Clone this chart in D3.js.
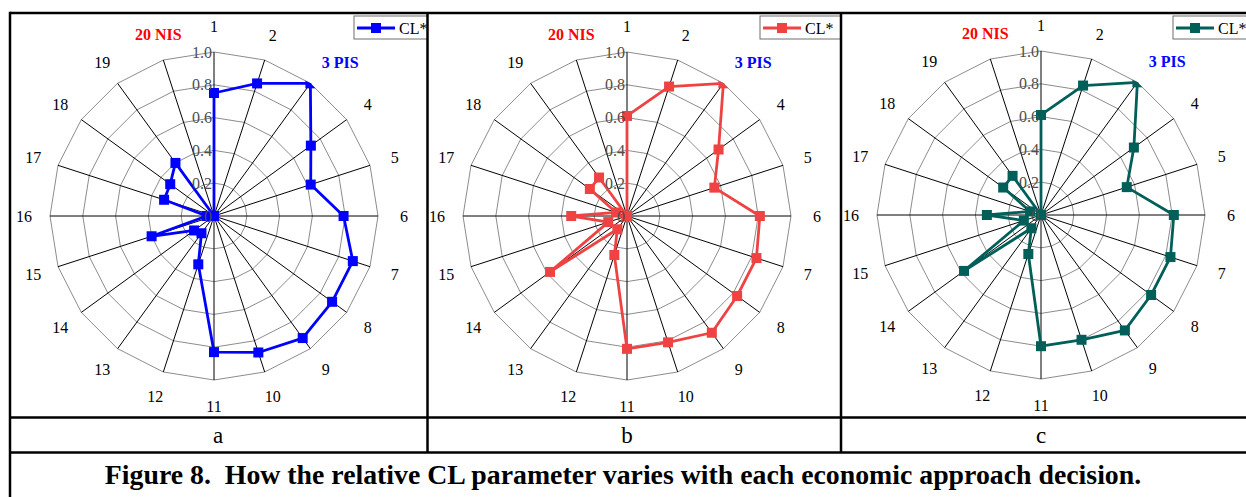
<!DOCTYPE html>
<html>
<head>
<meta charset="utf-8">
<script src="https://cdn.jsdelivr.net/npm/d3@7"></script>
<style>
  html, body { margin: 0; padding: 0; background: #fff; }
  svg { display: block; }
  text { font-family: "Liberation Serif", "Times New Roman", serif; }
</style>
</head>
<body>
<svg id="chart" width="1246" height="497"></svg>
<script>
/* Radar charts of relative CL for three decisions */

const categories = ['1', '2', '3 PIS', '4', '5', '6', '7', '8', '9', '10',
    '11', '12', '13', '14', '15', '16', '17', '18', '19', '20 NIS'];
const tickValues = [0, 0.2, 0.4, 0.6, 0.8, 1.0];
const tickLabels = ['0', '0.2', '0.4', '0.6', '0.8', '1.0'];
const seriesName = 'CL*';
const panelNames = ['a', 'b', 'c'];

const clA = [0.75, 0.85, 1.0, 0.73, 0.62, 0.79, 0.89, 0.89, 0.92, 0.875,
    0.83, 0.31, 0.13, 0.15, 0.40, 0.045, 0.32, 0.33, 0.40, 0.0];
const clB = [0.61, 0.83, 1.0, 0.69, 0.56, 0.81, 0.83, 0.83, 0.88, 0.81,
    0.81, 0.25, 0.10, 0.58, 0.12, 0.34, 0.07, 0.28, 0.29, 0.0];
const clC = [0.61, 0.83, 1.0, 0.70, 0.55, 0.81, 0.83, 0.83, 0.87, 0.80,
    0.80, 0.25, 0.10, 0.58, 0.11, 0.33, 0.07, 0.285, 0.295, 0.0];

const caption = 'Figure 8.  How the relative CL parameter varies with each economic approach decision.';

const SPECIAL = {
    '3 PIS': { color: '#0000ff', anchor: 'start', dx: -4, dy: 0 },
    '20 NIS': { color: '#ff0000', anchor: 'middle', dx: 3, dy: -1 },
};

const panels = [
    { name: panelNames[0], data: clA, color: '#0000ff', cx: 214, cy: 216, legendX: 354, x0: 10, x1: 427.5 },
    { name: panelNames[1], data: clB, color: '#ef4343', cx: 627, cy: 216, legendX: 760, x0: 427.5, x1: 841 },
    { name: panelNames[2], data: clC, color: '#005f58', cx: 1041, cy: 215, legendX: 1173, x0: 841, x1: 1246 },
];

const R = 164;
const LABEL_R = 190;
const TOP = 13, ROW1 = 417.5, ROW2 = 452.5, BOTTOM = 497;

const svg = d3.select('#chart');
svg.append('rect').attr('width', 1246).attr('height', 497).attr('fill', '#fff');

const r = d3.scaleLinear().domain([0, 1]).range([0, R]);
const angle = d3.scaleLinear().domain([0, categories.length]).range([0, 2 * Math.PI]);

const defs = svg.append('defs');

function polar(i, v) {
    const a = angle(i);
    return [Math.sin(a) * r(v), -Math.cos(a) * r(v)];
}

panels.forEach((p, pi) => {
    // clip each panel to its table cell
    defs.append('clipPath').attr('id', 'cell' + pi)
        .append('rect')
        .attr('x', p.x0).attr('y', TOP)
        .attr('width', p.x1 - p.x0).attr('height', ROW1 - TOP);

    const outerPts = categories.map((c, i) => polar(i, 1));
    defs.append('clipPath').attr('id', 'plot' + pi)
        .append('polygon')
        .attr('points', outerPts.map(d => d.join(',')).join(' '));

    const cell = svg.append('g').attr('clip-path', `url(#cell${pi})`);
    const g = cell.append('g').attr('transform', `translate(${p.cx},${p.cy})`);

    // ring gridlines
    g.selectAll('.ring')
        .data(tickValues.filter(t => t > 0))
        .join('polygon')
        .attr('class', 'ring')
        .attr('points', t => categories.map((c, i) => polar(i, t).join(',')).join(' '))
        .attr('fill', 'none')
        .attr('stroke', '#8c8c8c')
        .attr('stroke-width', 1);

    // spokes
    g.selectAll('.spoke')
        .data(categories)
        .join('line')
        .attr('class', 'spoke')
        .attr('x1', 0).attr('y1', 0)
        .attr('x2', (c, i) => polar(i, 1)[0])
        .attr('y2', (c, i) => polar(i, 1)[1])
        .attr('stroke', '#000')
        .attr('stroke-width', 1);

    // category labels
    g.selectAll('.cat')
        .data(categories)
        .join('text')
        .attr('class', 'cat')
        .attr('x', (c, i) => {
            const a = angle(i);
            return Math.sin(a) * LABEL_R + (SPECIAL[c] ? SPECIAL[c].dx : 0);
        })
        .attr('y', (c, i) => {
            const a = angle(i);
            return -Math.cos(a) * LABEL_R + (SPECIAL[c] ? SPECIAL[c].dy : 0);
        })
        .attr('dy', '0.35em')
        .attr('text-anchor', c => SPECIAL[c] ? SPECIAL[c].anchor : 'middle')
        .attr('font-size', 16)
        .attr('font-weight', c => SPECIAL[c] ? 'bold' : 'normal')
        .attr('fill', c => SPECIAL[c] ? SPECIAL[c].color : '#000')
        .text(c => c);

    // series
    const series = g.append('g').attr('clip-path', `url(#plot${pi})`);
    const line = d3.lineRadial()
        .angle((d, i) => angle(i))
        .radius(d => r(d))
        .curve(d3.curveLinearClosed);

    series.append('path')
        .attr('d', line(p.data))
        .attr('fill', 'none')
        .attr('stroke', p.color)
        .attr('stroke-width', 2.8)
        .attr('stroke-linejoin', 'round');

    series.selectAll('.pt')
        .data(p.data)
        .join('rect')
        .attr('class', 'pt')
        .attr('x', (d, i) => polar(i, d)[0] - 5)
        .attr('y', (d, i) => polar(i, d)[1] - 5)
        .attr('width', 10).attr('height', 10)
        .attr('fill', p.color);

    // radial axis tick labels
    g.selectAll('.tick')
        .data(tickValues)
        .join('text')
        .attr('class', 'tick')
        .attr('x', -2)
        .attr('y', t => -r(t))
        .attr('dy', '0.35em')
        .attr('text-anchor', 'end')
        .attr('font-size', 16)
        .attr('fill', '#4d4d4d')
        .text((t, i) => tickLabels[i]);

    // legend
    const lg = cell.append('g').attr('transform', `translate(${p.legendX},16)`);
    lg.append('rect')
        .attr('x', 0).attr('y', 0)
        .attr('width', 110).attr('height', 23)
        .attr('fill', '#fff')
        .attr('stroke', '#6e6e6e')
        .attr('stroke-width', 1);
    lg.append('line')
        .attr('x1', 3).attr('x2', 41)
        .attr('y1', 12).attr('y2', 12)
        .attr('stroke', p.color).attr('stroke-width', 2.8);
    lg.append('rect')
        .attr('x', 17).attr('y', 7)
        .attr('width', 10).attr('height', 10)
        .attr('fill', p.color);
    lg.append('text')
        .attr('x', 45).attr('y', 12)
        .attr('dy', '0.35em')
        .attr('font-size', 16)
        .attr('fill', '#000')
        .text(seriesName);

    // panel letter
    svg.append('text')
        .attr('x', p.cx + (pi === 0 ? 4 : 0))
        .attr('y', (ROW1 + ROW2) / 2)
        .attr('dy', '0.35em')
        .attr('text-anchor', 'middle')
        .attr('font-size', 23)
        .text(p.name);
});

// table rules
const rules = svg.append('g').attr('stroke', '#000').attr('stroke-width', 2.5);
rules.append('line').attr('x1', 10).attr('x2', 1246).attr('y1', TOP).attr('y2', TOP);
rules.append('line').attr('x1', 10).attr('x2', 1246).attr('y1', ROW1).attr('y2', ROW1);
rules.append('line').attr('x1', 10).attr('x2', 1246).attr('y1', ROW2).attr('y2', ROW2);
rules.append('line').attr('x1', 10).attr('x2', 10).attr('y1', TOP - 1.2).attr('y2', BOTTOM);
rules.append('line').attr('x1', 427.5).attr('x2', 427.5).attr('y1', TOP).attr('y2', ROW2);
rules.append('line').attr('x1', 841).attr('x2', 841).attr('y1', TOP).attr('y2', ROW2);

svg.append('text')
    .attr('x', 623)
    .attr('y', 474)
    .attr('dy', '0.35em')
    .attr('text-anchor', 'middle')
    .attr('font-size', 27.8)
    .attr('font-weight', 'bold')
    .style('white-space', 'pre')
    .text(caption);
</script>
</body>
</html>
